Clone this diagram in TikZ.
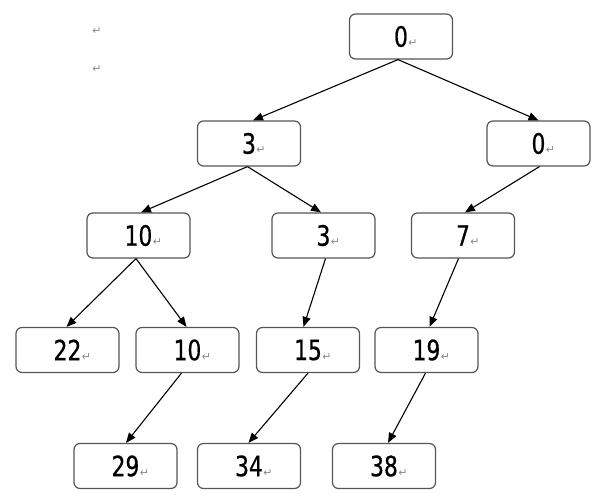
\documentclass[tikz,border=0pt]{standalone}
\usepackage{fontspec}
\usetikzlibrary{arrows.meta}
\newfontfamily\numfont[FakeStretch=0.78,FakeBold=0.6]{DejaVu Sans}
\newfontfamily\markfont{DejaVu Sans}
\definecolor{boxline}{HTML}{555555}
\definecolor{markgray}{HTML}{8A8A8A}
\newcommand{\pmark}{{\markfont\fontsize{11}{11}\selectfont\textcolor{markgray}{↵}}}
\newcommand{\val}[1]{\raisebox{-1.5pt}{#1\rlap{\hspace{0.5pt}\pmark}}}
\begin{document}
\begin{tikzpicture}[x=1pt,y=-1pt,
  treebox/.style={draw=boxline, line width=1.2pt, rounded corners=6pt,
    minimum width=103pt, minimum height=45pt, inner sep=0pt,
    font=\numfont\fontsize{28}{28}\selectfont},
  edge/.style={line width=1.1pt, -{Triangle[length=10pt,width=8pt]}},
  parmark/.style={inner sep=0pt}]
\useasboundingbox (0,0) rectangle (600,503);
\node[parmark] (m1) at (97,31) {\pmark};
\node[parmark] (m2) at (97,69) {\pmark};
\node[treebox] (r) at (401,36.5) {\val{0}};
\node[treebox] (a) at (249,143.5) {\val{3}};
\node[treebox] (b) at (538.5,143.5) {\val{0}};
\node[treebox] (c) at (138.5,235.5) {\val{10}};
\node[treebox] (d) at (323.5,235.5) {\val{3}};
\node[treebox] (e) at (463,235.5) {\val{7}};
\node[treebox] (f) at (67.5,350) {\val{22}};
\node[treebox] (g) at (187.5,350) {\val{10}};
\node[treebox] (h) at (308,350) {\val{15}};
\node[treebox] (i) at (426.5,350) {\val{19}};
\node[treebox] (j) at (125.5,466) {\val{29}};
\node[treebox] (k) at (249,466) {\val{34}};
\node[treebox] (l) at (384,466) {\val{38}};
\draw[edge] ([xshift=-3pt]r.south) -- ([xshift=4pt]a.north);
\draw[edge] ([xshift=-3pt]r.south) -- (b.north);
\draw[edge] ([xshift=1pt]b.south) -- ([xshift=2pt]e.north);
\draw[edge] ([xshift=-1.5pt]a.south) -- ([xshift=2.5pt]c.north);
\draw[edge] ([xshift=-1.5pt]a.south) -- ([xshift=-2.5pt]d.north);
\draw[edge] ([xshift=-4.5pt]e.south) -- ([xshift=3pt]i.north);
\draw[edge] ([xshift=-2.5pt]c.south) -- ([xshift=-1pt]f.north);
\draw[edge] ([xshift=-2.5pt]c.south) -- ([xshift=-1pt]g.north);
\draw[edge] ([xshift=2pt]d.south) -- ([xshift=-4.5pt]h.north);
\draw[edge] ([xshift=-6pt]g.south) -- ([xshift=0.5pt]j.north);
\draw[edge] (h.south) -- ([xshift=-0.5pt]k.north);
\draw[edge] ([xshift=-1pt]i.south) -- ([xshift=4pt]l.north);
\end{tikzpicture}
\end{document}
